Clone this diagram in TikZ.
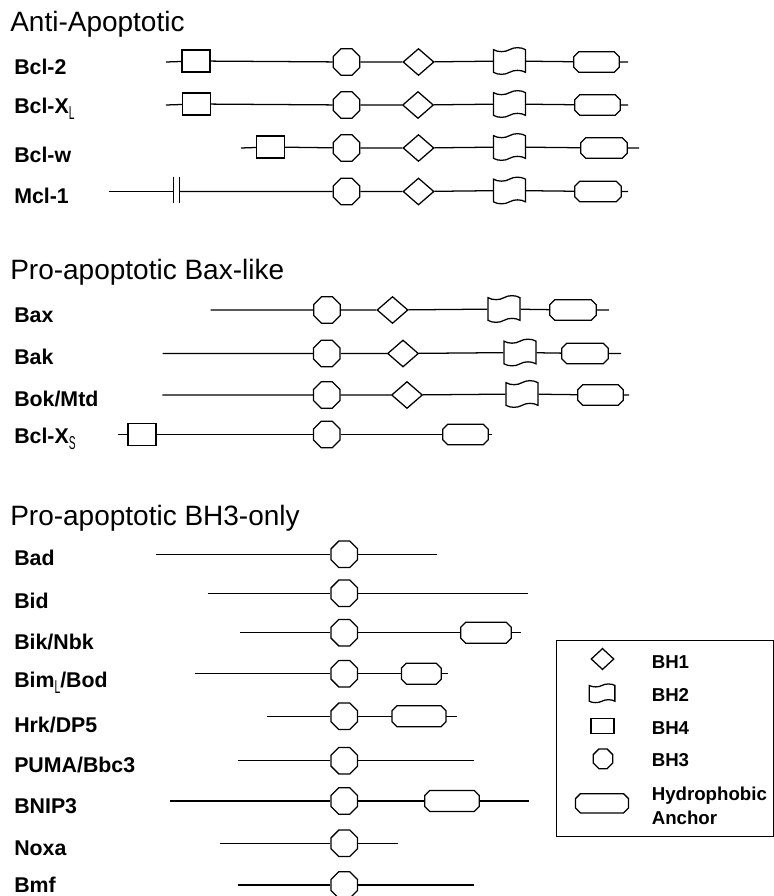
\documentclass[tikz,border=0pt]{standalone}
\usepackage{fontspec}
\setmainfont{Liberation Sans}
\usetikzlibrary{shapes.geometric,shapes.symbols,calc}
\newcommand\mysub[1]{\raisebox{-4.5pt}{\fontsize{14}{14}\selectfont\mdseries\scalebox{0.55}[1]{#1}}}
% hydrophobic anchor: name, x, y, width(px), height(px)
\newcommand\hydanc[5]{%
  \node[rectangle,inner sep=0pt,minimum width=#4*0.75pt,minimum height=#5*0.75pt] (#1) at (#2,#3) {};
  \draw[ln,fill=white] ($(#1.north west)+(0,5)$) -- ($(#1.north west)+(5,0)$) -- ($(#1.north east)+(-5,0)$) -- ($(#1.north east)+(0,5)$) -- ($(#1.south east)+(0,-5)$) -- ($(#1.south east)+(-5,0)$) -- ($(#1.south west)+(5,0)$) -- ($(#1.south west)+(0,-5)$) -- cycle;}
\begin{document}
\begin{tikzpicture}[x=0.75pt,y=-0.75pt,
  ln/.style={line width=0.95pt},
  sh/.style={draw,line width=0.95pt,inner sep=0pt,fill=white},
  bhrect/.style={sh,rectangle,minimum width=21pt,minimum height=16.5pt},
  bhoct/.style={sh,regular polygon,regular polygon sides=8,minimum size=21.5pt},
  bhdia/.style={sh,diamond,minimum width=23.25pt,minimum height=20.25pt},
  bhflag/.style={sh,tape,minimum width=24pt,minimum height=20pt,tape bend height=3pt},
  lab/.style={anchor=base west,inner sep=0pt,font=\fontsize{16}{18}\selectfont\bfseries},
  ttl/.style={anchor=base west,inner sep=0pt,font=\fontsize{21}{24}\selectfont},
  leg/.style={anchor=base west,inner sep=0pt,font=\fontsize{14}{16}\selectfont\bfseries},
]
\useasboundingbox (0,0) rectangle (774,896);

% ---------- titles ----------
\node[ttl] (t1) at (10,31) {Anti-Apoptotic};
\node[ttl] (t2) at (10,279) {Pro-apoptotic Bax-like};
\node[ttl] (t3) at (10,525) {Pro-apoptotic BH3-only};

% ---------- Anti-apoptotic ----------
\node[lab] (l1) at (14,74.5) {Bcl-2};
\coordinate (a1s) at (166,62);
\node[bhrect] (a1r) at (196,61) {};
\node[bhoct] (a1o) at (346.5,62) {};
\node[bhdia] (a1d) at (418.5,62) {};
\node[bhflag] (a1f) at (509.5,61) {};
\hydanc{a1h}{596.5}{62}{45}{20}
\coordinate (a1e) at (628,62);
\draw[ln] (a1s) -- (a1r) -- (a1o) -- (a1d) -- (a1f) -- (a1h) -- (a1e);

\node[lab] (l2) at (14,113.5) {Bcl-X\mysub{L}};
\coordinate (a2s) at (166,105);
\node[bhrect] (a2r) at (196.5,104) {};
\node[bhoct] (a2o) at (346.5,105) {};
\node[bhdia] (a2d) at (418,105) {};
\node[bhflag] (a2f) at (509.5,104) {};
\hydanc{a2h}{597.5}{105}{45}{20}
\coordinate (a2e) at (628,105);
\draw[ln] (a2s) -- (a2r) -- (a2o) -- (a2d) -- (a2f) -- (a2h) -- (a2e);

\node[lab] (l3) at (14,162) {Bcl-w};
\coordinate (a3s) at (241,148);
\node[bhrect] (a3r) at (270.5,147) {};
\node[bhoct] (a3o) at (346.5,148) {};
\node[bhdia] (a3d) at (418.5,148) {};
\node[bhflag] (a3f) at (509.5,147) {};
\hydanc{a3h}{604}{148}{46}{20}
\coordinate (a3e) at (639,148);
\draw[ln] (a3s) -- (a3r) -- (a3o) -- (a3d) -- (a3f) -- (a3h) -- (a3e);

\node[lab] (l4) at (14,203.5) {Mcl-1};
\coordinate (a4s) at (108.5,191.5);
\coordinate (a4b1) at (173.3,191.5);
\coordinate (a4b2) at (179.3,191.5);
\node[bhoct] (a4o) at (346.5,191.5) {};
\node[bhdia] (a4d) at (418.5,191.5) {};
\node[bhflag] (a4f) at (509.5,190.5) {};
\hydanc{a4h}{598}{191.5}{46}{20}
\coordinate (a4e) at (628,191.5);
\draw[ln] (a4s) -- (a4b1);
\draw[ln] ($(a4b1)+(0,-14.8)$) -- ($(a4b1)+(0,11.8)$);
\draw[ln] ($(a4b2)+(0,-14.8)$) -- ($(a4b2)+(0,11.8)$);
\draw[ln] (a4b2) -- (a4o) -- (a4d) -- (a4f) -- (a4h) -- (a4e);

% ---------- Bax-like ----------
\node[lab] (l5) at (14,322) {Bax};
\coordinate (b1s) at (210.7,310);
\node[bhoct] (b1o) at (327,310) {};
\node[bhdia] (b1d) at (392.5,310) {};
\node[bhflag] (b1f) at (504,309) {};
\hydanc{b1h}{573}{310}{46}{20}
\coordinate (b1e) at (609,310);
\draw[ln] (b1s) -- (b1o) -- (b1d) -- (b1f) -- (b1h) -- (b1e);

\node[lab] (l6) at (14,364) {Bak};
\coordinate (b2s) at (162.5,353.5);
\node[bhoct] (b2o) at (326.7,353.5) {};
\node[bhdia] (b2d) at (403,353.5) {};
\node[bhflag] (b2f) at (520,352.5) {};
\hydanc{b2h}{585}{353.5}{46}{20}
\coordinate (b2e) at (621,353.5);
\draw[ln] (b2s) -- (b2o) -- (b2d) -- (b2f) -- (b2h) -- (b2e);

\node[lab] (l7) at (14,406.5) {Bok/Mtd};
\coordinate (b3s) at (162.3,395);
\node[bhoct] (b3o) at (326.7,395) {};
\node[bhdia] (b3d) at (407,395) {};
\node[bhflag] (b3f) at (522,394) {};
\hydanc{b3h}{600.5}{395}{45}{20}
\coordinate (b3e) at (629,395);
\draw[ln] (b3s) -- (b3o) -- (b3d) -- (b3f) -- (b3h) -- (b3e);

\node[lab] (l8) at (14,443) {Bcl-X\mysub{S}};
\coordinate (b4s) at (118.3,434.5);
\node[bhrect] (b4r) at (142,434.5) {};
\node[bhoct] (b4o) at (326.7,434.5) {};
\hydanc{b4h}{465.5}{434.5}{45}{20}
\coordinate (b4e) at (491.7,434.5);
\draw[ln] (b4s) -- (b4r) -- (b4o) -- (b4h) -- (b4e);

% ---------- BH3-only ----------
\node[lab] (l9) at (14,565.5) {Bad};
\coordinate (c1s) at (156,554.3);
\node[bhoct] (c1o) at (344.3,554.3) {};
\coordinate (c1e) at (436.7,554.3);
\draw[ln] (c1s) -- (c1o) -- (c1e);

\node[lab] (l10) at (14,608.5) {Bid};
\coordinate (c2s) at (207.7,593.3);
\node[bhoct] (c2o) at (344.3,593.3) {};
\coordinate (c2e) at (527.7,593.3);
\draw[ln] (c2s) -- (c2o) -- (c2e);

\node[lab] (l11) at (14,649.5) {Bik/Nbk};
\coordinate (c3s) at (240,632.7);
\node[bhoct] (c3o) at (344.3,632.7) {};
\hydanc{c3h}{486}{632.7}{50}{20.5}
\coordinate (c3e) at (520.7,632.7);
\draw[ln] (c3s) -- (c3o) -- (c3h) -- (c3e);

\node[lab] (l12) at (14,687.5) {Bim\mysub{L}/Bod};
\coordinate (c4s) at (195.3,673.7);
\node[bhoct] (c4o) at (344.3,673.7) {};
\hydanc{c4h}{421.3}{673.7}{39.3}{20.5}
\coordinate (c4e) at (447.7,673.7);
\draw[ln] (c4s) -- (c4o) -- (c4h) -- (c4e);

\node[lab] (l13) at (14,732) {Hrk/DP5};
\coordinate (c5s) at (267.3,716.3);
\node[bhoct] (c5o) at (344.3,716.3) {};
\hydanc{c5h}{419}{716.3}{53.4}{20.5}
\coordinate (c5e) at (456.7,716.3);
\draw[ln] (c5s) -- (c5o) -- (c5h) -- (c5e);

\node[lab] (l14) at (14,772) {PUMA/Bbc3};
\coordinate (c6s) at (237.7,760.7);
\node[bhoct] (c6o) at (344.3,760.7) {};
\coordinate (c6e) at (474.3,760.7);
\draw[ln] (c6s) -- (c6o) -- (c6e);

\node[lab] (l15) at (14,813.5) {BNIP3};
\coordinate (c7s) at (170,801);
\node[bhoct] (c7o) at (344.3,801) {};
\hydanc{c7h}{452}{801}{54}{20.5}
\coordinate (c7e) at (528.7,801);
\draw[ln] (c7s) -- (c7o) -- (c7h) -- (c7e);

\node[lab] (l16) at (14,855) {Noxa};
\coordinate (c8s) at (220.3,843.3);
\node[bhoct] (c8o) at (344.3,843.3) {};
\coordinate (c8e) at (398.3,843.3);
\draw[ln] (c8s) -- (c8o) -- (c8e);

\node[lab] (l17) at (14,892.5) {Bmf};
\coordinate (c9s) at (237.7,885);
\node[bhoct] (c9o) at (344.3,885) {};
\coordinate (c9e) at (474.3,885);
\draw[ln] (c9s) -- (c9o) -- (c9e);

% ---------- legend ----------
\draw[line width=0.75pt] (556,640) rectangle (773,836);
\node[bhdia,minimum width=17.25pt,minimum height=16pt] (kd) at (602.5,659) {};
\node[bhflag,minimum width=19.3pt,minimum height=14pt,tape bend height=2.2pt] (kf) at (602,693.3) {};
\node[bhrect,minimum width=17.25pt,minimum height=11.25pt] (kr) at (602.5,726) {};
\node[bhoct,minimum size=16pt] (ko) at (603,758.8) {};
\hydanc{ka}{602}{803.3}{52.6}{18.7}
\node[leg] (k1) at (651.5,668) {BH1};
\node[leg] (k2) at (651.5,701.5) {BH2};
\node[leg] (k3) at (651.5,734) {BH4};
\node[leg] (k4) at (651.5,766.5) {BH3};
\node[leg] (k5) at (651.5,800.3) {Hydrophobic};
\node[leg] (k6) at (651.5,824) {Anchor};
\end{tikzpicture}
\end{document}
